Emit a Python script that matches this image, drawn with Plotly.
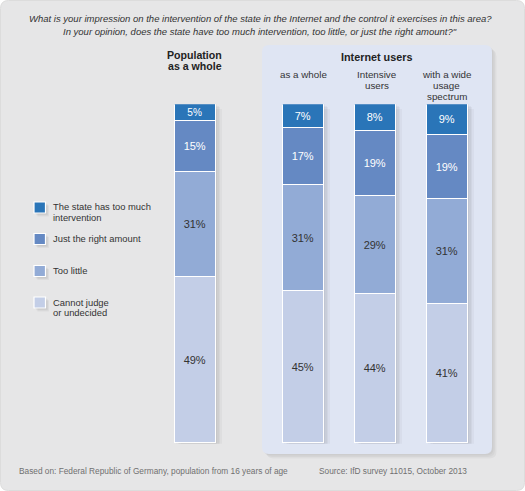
import plotly.graph_objects as go

W, H = 525, 491

# ---- data ----
groups = ["Population as a whole", "Internet users: as a whole",
          "Internet users: Intensive users", "Internet users: with a wide usage spectrum"]
series_names = ["Cannot judge<br>or undecided", "Too little", "Just the right amount",
                "The state has too much<br>intervention"]
cannot_judge = [49, 45, 44, 41]
too_little = [31, 31, 29, 31]
just_right = [15, 17, 19, 19]
too_much = [5, 7, 8, 9]
series_values = [cannot_judge, too_little, just_right, too_much]

title_lines = ["What is your impression on the intervention of the state in the Internet and the control it exercises in this area?",
               "In your opinion, does the state have too much intervention, too little, or just the right amount?\""]
footer_left = "Based on: Federal Republic of Germany, population from 16 years of age"
footer_right = "Source: IfD survey 11015, October 2013"

# ---- styles / layout ----
colors = ["#c3cee7", "#92abd6", "#6589c3", "#2a75b8"]
text_colors = ["#333333", "#333333", "#ffffff", "#ffffff"]
slots = [0, 3, 5, 7]          # horizontal slot of each group
px_per_unit = 36.0
slot0_px = 195.0
bar_px = 41.0
bar_top_px, bar_bot_px = 104.3, 443.7
FONT = "Liberation Sans, Arial, sans-serif"

x0u = -slot0_px / px_per_unit
x1u = (W - slot0_px) / px_per_unit
bar_w = bar_px / px_per_unit

def fx(p):
    return p / W

def fy(p):
    return 1 - p / H

def rrect(x0, y0, x1, y1, r):
    pts = [f"M {fx(x0 + r)} {fy(y0)}", f"L {fx(x1 - r)} {fy(y0)}",
           f"Q {fx(x1)} {fy(y0)} {fx(x1)} {fy(y0 + r)}", f"L {fx(x1)} {fy(y1 - r)}",
           f"Q {fx(x1)} {fy(y1)} {fx(x1 - r)} {fy(y1)}", f"L {fx(x0 + r)} {fy(y1)}",
           f"Q {fx(x0)} {fy(y1)} {fx(x0)} {fy(y1 - r)}", f"L {fx(x0)} {fy(y0 + r)}",
           f"Q {fx(x0)} {fy(y0)} {fx(x0 + r)} {fy(y0)}", "Z"]
    return " ".join(pts)

fig = go.Figure()

totals = [sum(v) for v in zip(*series_values)]
px_per_pct = (bar_bot_px - bar_top_px) / 100

# shadows of the bars (base axes, drawn beneath)
for k, a in enumerate([0.035, 0.035, 0.035, 0.03]):
    off_px = 1.5 + 1.5 * k
    fig.add_trace(go.Bar(
        x=slots, y=[t + 0.4 for t in totals], base=-off_px / px_per_pct,
        width=bar_w, offset=-bar_w / 2 + off_px / px_per_unit,
        marker=dict(color=f"rgba(0,0,0,{a})", line=dict(width=0)),
        hoverinfo="skip", showlegend=False, xaxis="x", yaxis="y"))

# actual stacked bars
for name, vals, col, tcol in zip(series_names, series_values, colors, text_colors):
    fig.add_trace(go.Bar(
        x=slots, y=vals, name=name, width=bar_w,
        marker=dict(color=col, line=dict(color="#ffffff", width=1.5)),
        text=[f"{v}%" for v in vals], textposition="inside", insidetextanchor="middle",
        textangle=0, textfont=dict(family=FONT, size=11, color=tcol),
        showlegend=False, xaxis="x2", yaxis="y2"))

ydom = [fy(bar_bot_px), fy(bar_top_px)]
axis_common = dict(visible=False, showgrid=False, zeroline=False, fixedrange=True)
fig.update_layout(
    width=W, height=H, margin=dict(l=0, r=0, t=0, b=0),
    paper_bgcolor="#ffffff", plot_bgcolor="rgba(0,0,0,0)",
    barmode="stack", bargap=0,
    xaxis=dict(range=[x0u, x1u], domain=[0, 1], **axis_common),
    yaxis=dict(range=[0, 100], domain=ydom, **axis_common),
    xaxis2=dict(range=[x0u, x1u], domain=[0, 1], overlaying="x", anchor="y2", **axis_common),
    yaxis2=dict(range=[0, 100], domain=ydom, overlaying="y", anchor="x2", **axis_common),
    showlegend=False,
    font=dict(family=FONT, color="#333333"),
)

shapes = []
shapes.append(dict(type="path", xref="paper", yref="paper", path=rrect(0.5, 0.5, W - 0.5, H - 0.5, 8),
                   fillcolor="#e6e6e7", line=dict(color="#dcdcdc", width=1), layer="below"))
for k in range(3):
    o = 1.5 + 1.5 * k
    shapes.append(dict(type="path", xref="paper", yref="paper",
                       path=rrect(262 + o, 45 + o, 492 + o, 454 + o, 7),
                       fillcolor="rgba(0,0,0,0.035)", line=dict(width=0), layer="below"))
shapes.append(dict(type="path", xref="paper", yref="paper", path=rrect(262, 45, 492, 454, 7),
                   fillcolor="#dfe5f3", line=dict(width=0), layer="below"))

annotations = []

def label(text, xp, yp, size, color="#333333", anchor="center"):
    annotations.append(dict(text=text, x=fx(xp), y=fy(yp), xref="paper", yref="paper",
                            showarrow=False, xanchor=anchor, yanchor="middle",
                            font=dict(family=FONT, size=size, color=color)))

for i, line in enumerate(title_lines):
    label(f"<i>{line}</i>", 260, 18.5 + 12.5 * i, 9.5)

# group headers: (lines, x, first line y, line step, size, bold)
headers = [
    (["Population", "as a whole"], 194.5, 55.5, 10.8, 10.6, True),
    (["Internet users"], 376.5, 57, 10, 10.8, True),
    (["as a whole"], 303, 75, 10.8, 9.8, False),
    (["Intensive", "users"], 377, 75, 10.8, 9.8, False),
    (["with a wide", "usage", "spectrum"], 446.5, 75, 10.6, 9.8, False),
]
for lines, xp, y0, step, size, bold in headers:
    for j, ln in enumerate(lines):
        label(f"<b>{ln}</b>" if bold else ln, xp, y0 + step * j, size,
              color="#222222" if bold else "#333333")

# legend (top entry first)
legend_y = [207.5, 239, 271, 302.5]
for name, col, yp in zip(series_names[::-1], colors[::-1], legend_y):
    for k in range(3):
        o = 1 + 1.2 * k
        shapes.append(dict(type="rect", xref="paper", yref="paper",
                           x0=fx(34 + o), x1=fx(45.5 + o), y0=fy(yp - 5.5 + o), y1=fy(yp + 5.5 + o),
                           fillcolor="rgba(0,0,0,0.05)", line=dict(width=0), layer="below"))
    shapes.append(dict(type="rect", xref="paper", yref="paper",
                       x0=fx(34), x1=fx(45.5), y0=fy(yp - 5.5), y1=fy(yp + 5.5),
                       fillcolor=col, line=dict(color="#ffffff", width=1.2)))
    for j, ln in enumerate(name.split("<br>")):
        label(ln, 51, yp - 0.5 + 10.6 * j, 9.4, anchor="left")

# footer
label(footer_left, 17, 471, 8.3, color="#707070", anchor="left")
label(footer_right, 317, 471, 8.3, color="#707070", anchor="left")

fig.update_layout(shapes=shapes, annotations=annotations)
fig.write_html("out.html", config={"displayModeBar": False},
               post_script="document.body.style.margin='0px';")
